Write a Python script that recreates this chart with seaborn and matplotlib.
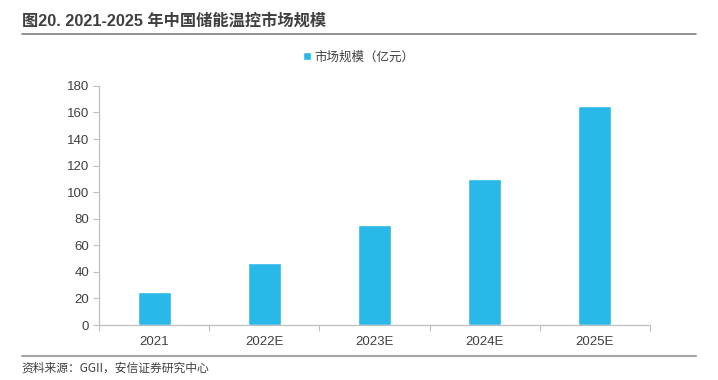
import matplotlib
matplotlib.use("Agg")
import matplotlib.pyplot as plt
import seaborn as sns
import pandas as pd
import numpy as np

categories = ["2021", "2022E", "2023E", "2024E", "2025E"]
values = [25, 47, 75, 110, 165]
series_name = "市场规模（亿元）"
yticks = [0, 20, 40, 60, 80, 100, 120, 140, 160, 180]
title = "图20. 2021-2025 年中国储能温控市场规模"
source = "资料来源：GGII，安信证券研究中心"

sns.set_theme(style="white")
plt.rcParams['font.family'] = ['Liberation Sans', 'Noto Sans CJK SC', 'DejaVu Sans']

df = pd.DataFrame({"cat": categories, "val": values})

fig = plt.figure(figsize=(7.18, 3.8), dpi=100)
ax = fig.add_axes([0.138, 0.1447, 0.767, 0.6293])
sns.barplot(data=df, x="cat", y="val", color="#29B8E8", width=0.3,
            saturation=1, ax=ax, label=series_name)

ax.set_ylim(0, 180)
ax.set_xlim(-0.5, len(categories) - 0.5)
ax.set_yticks(yticks)
ax.set_xlabel("")
ax.set_ylabel("")
ax.tick_params(axis="y", labelsize=9.5, length=4, width=0.8,
               color="#BFBFBF", pad=3, left=True)
ax.tick_params(axis="x", which="major", labelsize=9.5,
               length=0, pad=8)
ax.set_xticks(np.arange(-0.5, len(categories), 1.0), minor=True)
ax.tick_params(axis="x", which="minor", length=4, width=0.8, color="#BFBFBF",
               bottom=True)
for lbl in ax.get_yticklabels() + ax.get_xticklabels():
    lbl.set_color("#404040")
for s in ["top", "right"]:
    ax.spines[s].set_visible(False)
for s in ["left", "bottom"]:
    ax.spines[s].set_color("#BFBFBF")
    ax.spines[s].set_linewidth(0.9)

leg = ax.legend(loc="center", bbox_to_anchor=(0.5, 0.85),
                bbox_transform=fig.transFigure, frameon=False,
                handlelength=0.6, handleheight=0.6, handletextpad=0.3,
                prop={'family': ['Noto Sans CJK SC'], 'size': 9})
for t in leg.get_texts():
    t.set_color("#404040")

fig.text(0.03, 0.945, title, fontsize=11.7, fontweight="bold", color="#404040",
         va="center", ha="left", family=['Liberation Sans', 'Noto Sans CJK SC'])
fig.add_artist(plt.Line2D([0.03, 0.97], [0.91, 0.91], transform=fig.transFigure,
                          color="#7F7F7F", lw=1.2))
fig.add_artist(plt.Line2D([0.03, 0.97], [0.063, 0.063], transform=fig.transFigure,
                          color="#A6A6A6", lw=1.5))
fig.text(0.03, 0.03, source, fontsize=8.5, color="#404040", style="italic",
         va="center", ha="left", family=['Noto Sans CJK SC'])

fig.savefig("out.png", dpi=100)
